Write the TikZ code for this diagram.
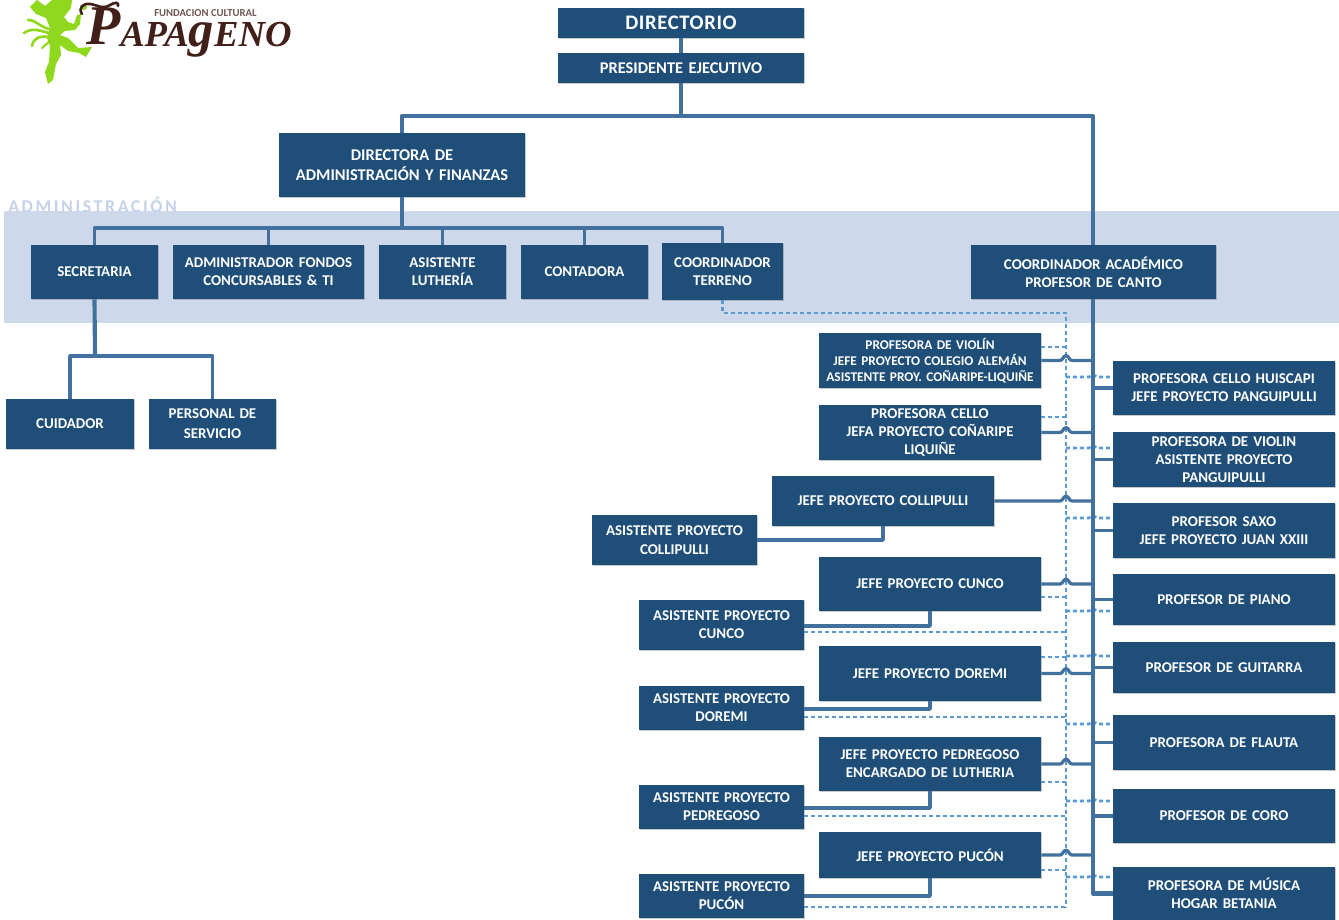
\documentclass[tikz,border=0pt]{standalone}
\usepackage{fontspec}
\setmainfont{Carlito}
\newfontfamily\logofont{Liberation Serif}
\usetikzlibrary{shadows,calc}
\definecolor{boxblue}{HTML}{1F4E79}
\definecolor{linkblue}{HTML}{41719C}
\definecolor{dashblue}{HTML}{5B9BD5}
\definecolor{bandblue}{HTML}{CDD8EA}
\definecolor{labelblue}{HTML}{C5D3EA}
\definecolor{logogreen}{HTML}{8FD81E}
\definecolor{logobrown}{HTML}{42201A}
\tikzset{
  orgbox/.style={fill=boxblue,text=white,font=\bfseries\fontsize{11.2}{13.5}\selectfont,align=center,inner sep=0pt,
    drop shadow={shadow xshift=1pt,shadow yshift=-1pt,opacity=.35,fill=black!60}},
  smallbox/.style={font=\bfseries\fontsize{10}{12}\selectfont},
  bigbox/.style={font=\bfseries\fontsize{12.3}{15}\selectfont},
  conn/.style={draw=linkblue,line width=2.7pt,line join=round},
  thick conn/.style={draw=linkblue,line width=3.1pt,line join=round},
  dashconn/.style={draw=dashblue,line width=1.9pt,dash pattern=on 3pt off 2.2pt}
}
\newcommand{\bx}[6][]{%
  \pgfmathsetmacro{\bw}{(#4-#2)*0.75}\pgfmathsetmacro{\bh}{(#5-#3)*0.75}%
  \node[orgbox,#1,minimum width=\bw pt,minimum height=\bh pt,text width=\bw pt] (#6) at ({(#2+#4)/2},{(#3+#5)/2}) {\csname bxtext\endcsname};}
\newcommand{\hop}[1]{%
  \draw[conn,line width=2.4pt] (#1.east) -- ([xshift=-4.5pt]dv |- #1.east) .. controls +(3,0) and +(-3,0) .. ([yshift=3.6pt]dv |- #1.east) .. controls +(3,0) and +(-3,0) .. ([xshift=4.5pt]dv |- #1.east) -- (tr |- #1.east);}
\newcommand{\rdash}[2]{%
  \draw[dashconn] (dv |- 0,#2) -- ([xshift=-3pt]tr |- 0,#2) .. controls +(1.5,0) and +(-1.5,0) .. ([yshift=2pt]tr |- 0,#2) .. controls +(1.5,0) and +(-1.5,0) .. ([xshift=3pt]tr |- 0,#2) -- (#1.west |- 0,#2);}
\begin{document}
\begin{tikzpicture}[x=0.75pt,y=-0.75pt]
\useasboundingbox (0,0) rectangle (1339,920);
\fill[white] (0,0) rectangle (1339,920);
% band
\fill[bandblue] (4,211) rectangle (1339,323);
\node[anchor=west,text=labelblue,inner sep=0pt,font=\bfseries\fontsize{13.5}{15}\selectfont\addfontfeature{LetterSpace=14}] (adm) at (8,205) {ADMINISTRACIÓN};
% logo
\fill[logogreen] (37,0) -- (45,6) -- (52,0) -- (72,0) -- (71,8) -- (64,17) -- (68,22) -- (74,24) -- (77,15) -- (81,14) -- (80,24) -- (75,30) -- (65,31) -- (60,35) -- (68,38) -- (78,48) -- (92,47) -- (86,57) -- (79,53) -- (68,51) -- (60,45) -- (61,55) -- (56,64) -- (53,80) -- (48,84) -- (45,72) -- (49,62) -- (50,46) -- (47,38) -- (50,28) -- (46,18) -- (36,14) -- (30,7) -- cycle;
\draw[logogreen,line width=2pt,line cap=round] (49,29) .. controls (40,27) and (36,20) .. (28,20);
\draw[logogreen,line width=2pt,line cap=round] (49,33) .. controls (40,31) and (33,27) .. (24,33);
\draw[logogreen,line width=2pt,line cap=round] (49,37) .. controls (42,36) and (34,36) .. (32,46);
\draw[logogreen,line width=1.6pt,line cap=round] (50,41) -- (42,48);
\fill[logogreen] (84,7) circle (3);
\draw[logobrown,line width=2pt,line cap=round] (82,14) .. controls (78,8) and (83,3) .. (90,4) .. controls (98,5) and (102,10) .. (110,5) .. controls (115,2) and (119,2) .. (118,6);
\node[anchor=base west,inner sep=0pt,text=logobrown,font=\logofont\itshape\bfseries\fontsize{42}{42}\selectfont] (lg1) at (86,45) {P};
\node[anchor=base west,inner sep=0pt,text=logobrown,font=\logofont\itshape\bfseries\fontsize{27.5}{28}\selectfont] (lg2) at (120,47) {APA\smash{\fontsize{38}{38}\selectfont g}ENO};
\node[anchor=base west,inner sep=0pt,text=logobrown!75,font=\bfseries\fontsize{8}{8}\selectfont] (lg3) at (154,17) {FUNDACION CULTURAL};
% boxes
\def\bxtext{\fontsize{15.5}{16}\selectfont\addfontfeature{LetterSpace=3}DIRECTORIO}\bx{558}{8}{804}{38}{dir}
\def\bxtext{PRESIDENTE EJECUTIVO}\bx[bigbox]{558}{53}{804}{83}{pres}
\def\bxtext{DIRECTORA DE\\ADMINISTRACIÓN Y FINANZAS}\bx[bigbox]{279}{133}{525}{197}{daf}
\def\bxtext{SECRETARIA}\bx{31}{245}{158}{299}{sec}
\def\bxtext{ADMINISTRADOR FONDOS\\CONCURSABLES \& TI}\bx{173}{245}{364}{299}{fon}
\def\bxtext{ASISTENTE\\LUTHERÍA}\bx{379}{245}{506}{299}{lut}
\def\bxtext{CONTADORA}\bx{521}{245}{648}{299}{con}
\def\bxtext{COORDINADOR\\TERRENO}\bx{662}{243}{783}{300}{ter}
\def\bxtext{COORDINADOR ACADÉMICO\\PROFESOR DE CANTO}\bx{971}{245}{1216}{299}{aca}
\def\bxtext{CUIDADOR}\bx{6}{399}{134}{449}{cui}
\def\bxtext{PERSONAL DE\\[1.5pt]SERVICIO}\bx{149}{399}{276}{449}{ser}
\def\bxtext{PROFESORA DE VIOLÍN\\JEFE PROYECTO COLEGIO ALEMÁN\\ASISTENTE PROY. COÑARIPE-LIQUIÑE}\bx[smallbox]{819}{333}{1041}{388}{pv}
\def\bxtext{PROFESORA CELLO\\JEFA PROYECTO COÑARIPE\\LIQUIÑE}\bx{819}{405}{1041}{460}{pc}
\def\bxtext{JEFE PROYECTO COLLIPULLI}\bx{772}{476}{994}{526}{jco}
\def\bxtext{ASISTENTE PROYECTO\\[1pt]COLLIPULLI}\bx{592}{515}{757}{565}{aco}
\def\bxtext{JEFE PROYECTO CUNCO}\bx{819}{557}{1041}{611}{jcu}
\def\bxtext{ASISTENTE PROYECTO\\CUNCO}\bx{639}{600}{804}{650}{acu}
\def\bxtext{JEFE PROYECTO DOREMI}\bx{819}{646}{1041}{701}{jdo}
\def\bxtext{ASISTENTE PROYECTO\\DOREMI}\bx{639}{686}{804}{730}{ado}
\def\bxtext{JEFE PROYECTO PEDREGOSO\\ENCARGADO DE LUTHERIA}\bx{819}{737}{1041}{791}{jpe}
\def\bxtext{ASISTENTE PROYECTO\\PEDREGOSO}\bx{639}{785}{804}{829}{ape}
\def\bxtext{JEFE PROYECTO PUCÓN}\bx{819}{832}{1041}{878}{jpu}
\def\bxtext{ASISTENTE PROYECTO\\PUCÓN}\bx{639}{874}{804}{918}{apu}
\def\bxtext{PROFESORA CELLO HUISCAPI\\JEFE PROYECTO PANGUIPULLI}\bx{1113}{361}{1335}{415}{r1}
\def\bxtext{PROFESORA DE VIOLIN\\ASISTENTE PROYECTO\\PANGUIPULLI}\bx{1113}{432}{1335}{487}{r2}
\def\bxtext{PROFESOR SAXO\\JEFE PROYECTO JUAN XXIII}\bx{1113}{503}{1335}{558}{r3}
\def\bxtext{PROFESOR DE PIANO}\bx{1113}{574}{1335}{625}{r4}
\def\bxtext{PROFESOR DE GUITARRA}\bx{1113}{642}{1335}{693}{r5}
\def\bxtext{PROFESORA DE FLAUTA}\bx{1113}{715}{1335}{770}{r6}
\def\bxtext{PROFESOR DE CORO}\bx{1113}{789}{1335}{843}{r7}
\def\bxtext{PROFESORA DE MÚSICA\\HOGAR BETANIA}\bx{1113}{867}{1335}{920}{r8}
% reference coordinates
\coordinate (tr) at (1093,300);
\coordinate (dv) at (1066,313);
\coordinate (top) at (681,116);
\coordinate (adm bus) at (402,228);
\coordinate (ser bus) at (95,356);
% solid top connectors
\draw[thick conn] (dir.south) -- (pres.north);
\draw[thick conn] (pres.south) -- (top);
\draw[thick conn] (daf.north) -- (daf.north |- top) -- (tr |- top) -- (tr |- aca.north);
\draw[thick conn] (daf.south) -- (adm bus);
\draw[conn] (sec.north) -- (sec.north |- adm bus) -- (ter.north |- adm bus) -- (ter.north);
\draw[conn] (fon.north) -- (fon.north |- adm bus);
\draw[conn] (lut.north) -- (lut.north |- adm bus);
\draw[conn] (con.north) -- (con.north |- adm bus);
\draw[thick conn] (sec.south) -- (ser bus);
\draw[conn] (cui.north) -- (cui.north |- ser bus) -- (ser.north |- ser bus) -- (ser.north);
% dashed
\draw[dashconn] (ter.south) -- (ter.south |- dv) -- (dv) -- (dv |- 0,908);
\foreach \n/\y in {pv/347,pc/417,jcu/597,jpe/782,jpu/870}{\draw[dashconn] (\n.east |- 0,\y) -- (dv |- 0,\y);}
\foreach \n/\y in {acu/632,ado/717,ape/816,apu/907}{\draw[dashconn] (\n.east |- 0,\y) -- (dv |- 0,\y);}
\draw[dashconn] (jdo.east |- 0,657) -- (dv |- 0,657);
\rdash{r1}{377}\rdash{r2}{448}\rdash{r3}{518}\rdash{r4}{611}\rdash{r5}{656}\rdash{r6}{724}\rdash{r7}{801}\rdash{r8}{877}
% trunk
\draw[thick conn] (aca.south -| tr) -- (tr |- r8.west) -- (r8.west);
\foreach \n in {r1,r2,r3,r4,r5,r6,r7}{\draw[conn,line width=2.4pt] (tr |- \n.west) -- (\n.west);}
\hop{pv}\hop{pc}\hop{jco}\hop{jcu}\hop{jdo}\hop{jpe}\hop{jpu}
% assistants
\draw[conn] (aco.east |- 0,540) -- (883,540) coordinate (c1) -- (c1 |- jco.south);
\draw[conn] (acu.east |- 0,626) -- (930,626) coordinate (c2) -- (c2 |- jcu.south);
\draw[conn] (ado.east |- 0,709) -- (930,709) coordinate (c3) -- (c3 |- jdo.south);
\draw[conn] (ape.east |- 0,808) -- (930,808) coordinate (c4) -- (c4 |- jpe.south);
\draw[conn] (apu.east |- 0,896) -- (930,896) coordinate (c5) -- (c5 |- jpu.south);
\end{tikzpicture}
\end{document}
